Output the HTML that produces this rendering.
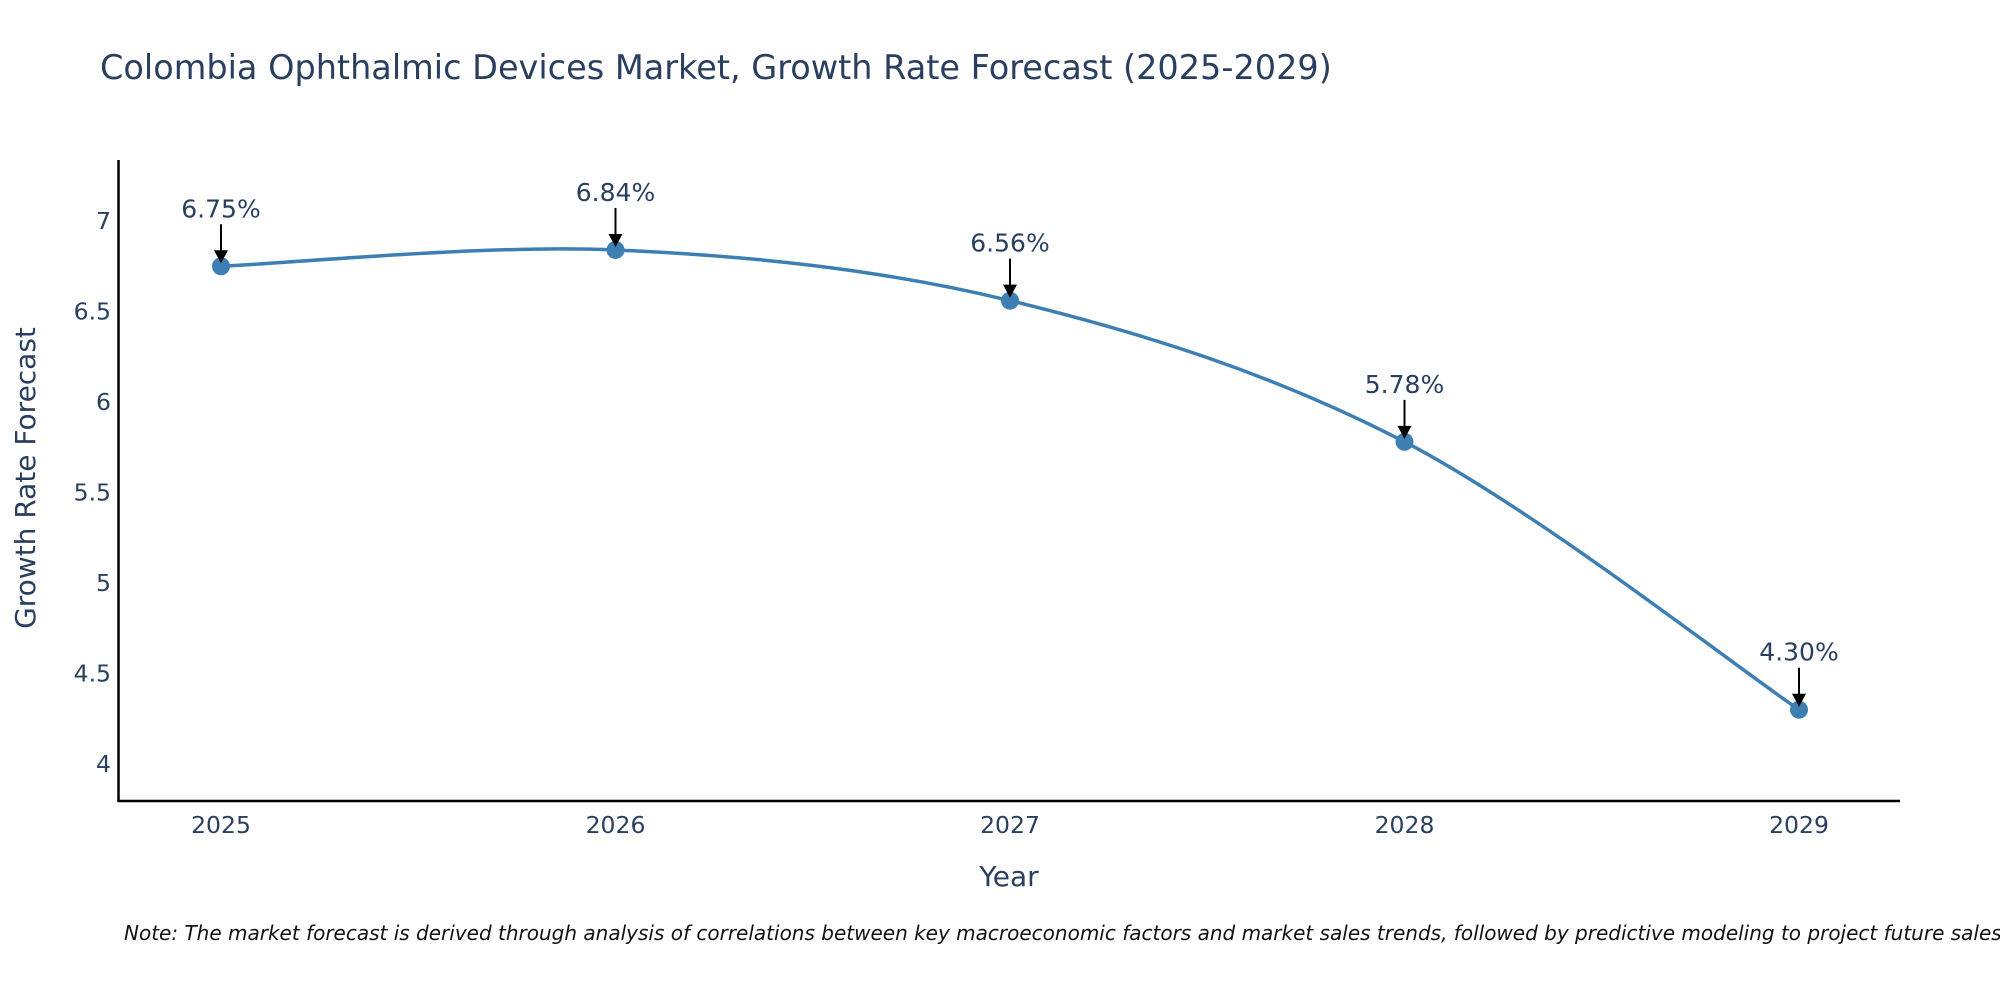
<!DOCTYPE html>
<html><head><meta charset="utf-8"><style>
body{margin:0;background:#fff;overflow:hidden;}
svg text{font-family:"DejaVu Sans","Liberation Sans",sans-serif;}
</style></head><body>
<svg id="chart" width="2000" height="1000" xmlns="http://www.w3.org/2000/svg">
<text x="100" y="79" font-size="33.5" fill="#2a3f5f">Colombia Ophthalmic Devices Market, Growth Rate Forecast (2025-2029)</text>
<g id="yticks"></g>
<g id="xticks"></g>
<line x1="118.5" y1="160" x2="118.5" y2="802" stroke="#000" stroke-width="2.5"/>
<line x1="118" y1="801" x2="1900" y2="801" stroke="#000" stroke-width="2.5"/>
<text transform="translate(35,478) rotate(-90)" text-anchor="middle" font-size="28" fill="#2a3f5f">Growth Rate Forecast</text>
<text x="1009" y="886" text-anchor="middle" font-size="28" fill="#2a3f5f">Year</text>
<g id="series"></g>
<text x="124" y="940" font-size="20" font-style="italic" fill="#111">Note: The market forecast is derived through analysis of correlations between key macroeconomic factors and market sales trends, followed by predictive modeling to project future sales.</text>
</svg>
<script>
const years = [2025, 2026, 2027, 2028, 2029];
const growth = [6.75, 6.84, 6.56, 5.78, 4.30];
const yTickValues = [4, 4.5, 5, 5.5, 6, 6.5, 7];
const yTickLabels = ["4", "4.5", "5", "5.5", "6", "6.5", "7"];

const NS = "http://www.w3.org/2000/svg";
function xScale(v){ return 221 + (v - 2025) * 394.5; }
function yScale(v){ return 764 - (v - 4) * 181; }
function mk(tag, attrs, parent){ const e=document.createElementNS(NS,tag); for(const k in attrs) e.setAttribute(k,attrs[k]); parent.appendChild(e); return e; }

const yt=document.getElementById('yticks');
yTickValues.forEach((v,i)=>{
  const t=mk('text',{x:111,y:yScale(v)+8,'text-anchor':'end','font-size':23.5,fill:'#2a3f5f'},yt);
  
  
  t.textContent=yTickLabels[i];
});
const xt=document.getElementById('xticks');
years.forEach(y=>{
  const t=mk('text',{x:xScale(y),y:833,'text-anchor':'middle','font-size':23.5,fill:'#2a3f5f'},xt);
  
  
  t.textContent=String(y);
});

const g=document.getElementById('series');
const pts=years.map((y,i)=>[xScale(y),yScale(growth[i])]);
let d='M'+pts[0][0]+','+pts[0][1];
for(let i=0;i<pts.length-1;i++){
  const p0=pts[Math.max(0,i-1)],p1=pts[i],p2=pts[i+1],p3=pts[Math.min(pts.length-1,i+2)];
  const s=1/6;
  const c1=[p1[0]+(p2[0]-p0[0])*s,p1[1]+(p2[1]-p0[1])*s];
  const c2=[p2[0]-(p3[0]-p1[0])*s,p2[1]-(p3[1]-p1[1])*s];
  d+=' C'+c1[0]+','+c1[1]+' '+c2[0]+','+c2[1]+' '+p2[0]+','+p2[1];
}
const line=mk('path',{d:d,fill:'none',stroke:'#3d7fb3','stroke-width':3.5},g);


pts.forEach((p,i)=>{
  const c=mk('circle',{cx:p[0],cy:p[1],r:9,fill:'#3d7fb3'},g);
  
  
  const a=mk('line',{x1:p[0],y1:p[1]-42,x2:p[0],y2:p[1]-14,stroke:'#000','stroke-width':2},g);
  
  
  const h=mk('polygon',{points:(p[0]-7)+','+(p[1]-16)+' '+(p[0]+7)+','+(p[1]-16)+' '+p[0]+','+(p[1]-3),fill:'#000'},g);
  
  
  const t=mk('text',{x:p[0],y:p[1]-49,'text-anchor':'middle','font-size':25,fill:'#2a3f5f'},g);
  
  
  t.textContent=growth[i].toFixed(2)+'%';
});
</script>
</body></html>
